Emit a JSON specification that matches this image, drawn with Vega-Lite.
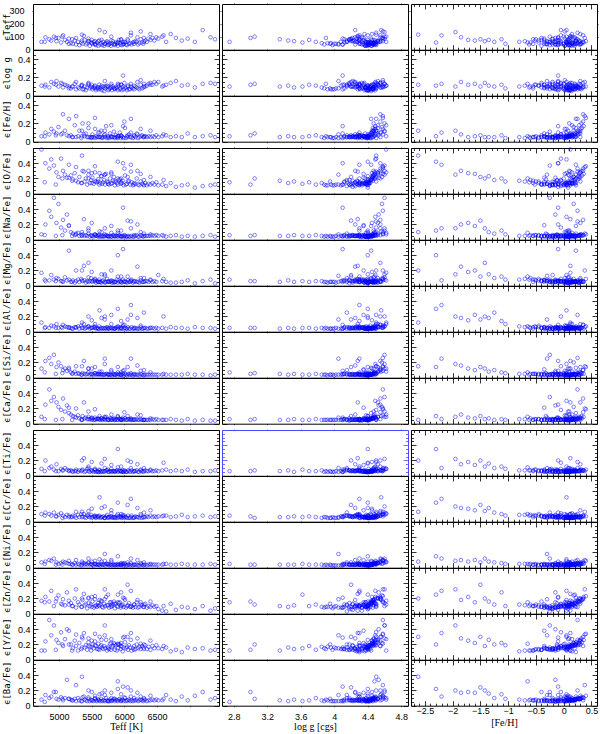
{
"$schema": "https://vega.github.io/schema/vega-lite/v6.json",
"padding": {"left": 1, "top": 0, "right": 3, "bottom": 0},
"datasets": {"s": [
{"T":4730,"g":4.62,"m":0.12,"eT":60,"eg":0.11,"em":0.06,"eO":0.58,"eNa":0.07,"eMg":0.17,"eAl":0.12,"eSi":0.12,"eCa":0.09,"eTi":0.09,"eCr":0.1,"eNi":0.07,"eZn":0.17,"eY":0.12,"eBa":0.08},
{"T":4790,"g":4.55,"m":-0.1,"eT":95,"eg":0.12,"em":0.1,"eO":0.4,"eNa":0.2,"eMg":0.06,"eAl":0.06,"eSi":0.22,"eCa":0.25,"eTi":0.2,"eCr":0.12,"eNi":0.08,"eZn":0.22,"eY":0.24,"eBa":0.14},
{"T":4850,"g":4.58,"m":0.25,"eT":80,"eg":0.09,"em":0.08,"eO":0.33,"eNa":0.38,"eMg":0.07,"eAl":0.05,"eSi":0.26,"eCa":0.45,"eTi":0.1,"eCr":0.1,"eNi":0.1,"eZn":0.16,"eY":0.52,"eBa":0.1},
{"T":4880,"g":4.49,"m":0.05,"eT":70,"eg":0.15,"em":0.14,"eO":0.45,"eNa":0.3,"eMg":0.14,"eAl":0.08,"eSi":0.18,"eCa":0.3,"eTi":0.12,"eCr":0.08,"eNi":0.09,"eZn":0.3,"eY":0.32,"eBa":0.12},
{"T":4920,"g":4.6,"m":-0.25,"eT":100,"eg":0.13,"em":0.11,"eO":0.37,"eNa":0.55,"eMg":0.08,"eAl":0.07,"eSi":0.3,"eCa":0.35,"eTi":0.08,"eCr":0.12,"eNi":0.12,"eZn":0.1,"eY":0.45,"eBa":0.18},
{"T":4960,"g":4.52,"m":0.3,"eT":65,"eg":0.16,"em":0.09,"eO":0.28,"eNa":0.22,"eMg":0.1,"eAl":0.1,"eSi":0.14,"eCa":0.28,"eTi":0.15,"eCr":0.07,"eNi":0.07,"eZn":0.2,"eY":0.26,"eBa":0.09},
{"T":4990,"g":4.57,"m":0.18,"eT":90,"eg":0.1,"em":0.16,"eO":0.22,"eNa":0.47,"eMg":0.09,"eAl":0.05,"eSi":0.2,"eCa":0.22,"eTi":0.06,"eCr":0.09,"eNi":0.05,"eZn":0.24,"eY":0.22,"eBa":0.08},
{"T":5030,"g":4.5,"m":-0.05,"eT":55,"eg":0.14,"em":0.08,"eO":0.46,"eNa":0.16,"eMg":0.06,"eAl":0.06,"eSi":0.15,"eCa":0.18,"eTi":0.09,"eCr":0.11,"eNi":0.06,"eZn":0.13,"eY":0.36,"eBa":0.11},
{"T":5060,"g":4.55,"m":0.35,"eT":110,"eg":0.09,"em":0.3,"eO":0.3,"eNa":0.26,"eMg":0.05,"eAl":0.09,"eSi":0.1,"eCa":0.33,"eTi":0.07,"eCr":0.08,"eNi":0.08,"eZn":0.19,"eY":0.18,"eBa":0.07},
{"T":5090,"g":4.47,"m":0.08,"eT":75,"eg":0.12,"em":0.12,"eO":0.25,"eNa":0.12,"eMg":0.11,"eAl":0.07,"eSi":0.12,"eCa":0.16,"eTi":0.1,"eCr":0.06,"eNi":0.07,"eZn":0.11,"eY":0.27,"eBa":0.1},
{"T":5120,"g":4.53,"m":-0.15,"eT":60,"eg":0.11,"em":0.07,"eO":0.21,"eNa":0.33,"eMg":0.07,"eAl":0.06,"eSi":0.09,"eCa":0.24,"eTi":0.08,"eCr":0.09,"eNi":0.06,"eZn":0.28,"eY":0.4,"eBa":0.34},
{"T":5150,"g":4.44,"m":0.22,"eT":85,"eg":0.1,"em":0.25,"eO":0.38,"eNa":0.18,"eMg":0.46,"eAl":0.05,"eSi":0.13,"eCa":0.14,"eTi":0.06,"eCr":0.08,"eNi":0.09,"eZn":0.17,"eY":0.2,"eBa":0.09},
{"T":5180,"g":4.48,"m":0.1,"eT":50,"eg":0.08,"em":0.07,"eO":0.24,"eNa":0.1,"eMg":0.05,"eAl":0.05,"eSi":0.07,"eCa":0.12,"eTi":0.07,"eCr":0.06,"eNi":0.05,"eZn":0.14,"eY":0.2,"eBa":0.08},
{"T":5210,"g":4.4,"m":-0.32,"eT":45,"eg":0.1,"em":0.05,"eO":0.19,"eNa":0.08,"eMg":0.07,"eAl":0.04,"eSi":0.06,"eCa":0.1,"eTi":0.05,"eCr":0.08,"eNi":0.04,"eZn":0.1,"eY":0.15,"eBa":0.07},
{"T":5240,"g":4.52,"m":0.28,"eT":70,"eg":0.13,"em":0.18,"eO":0.27,"eNa":0.06,"eMg":0.04,"eAl":0.06,"eSi":0.08,"eCa":0.09,"eTi":0.06,"eCr":0.07,"eNi":0.06,"eZn":0.2,"eY":0.25,"eBa":0.09},
{"T":5260,"g":4.46,"m":-0.12,"eT":40,"eg":0.07,"em":0.05,"eO":0.17,"eNa":0.07,"eMg":0.06,"eAl":0.05,"eSi":0.05,"eCa":0.08,"eTi":0.08,"eCr":0.05,"eNi":0.04,"eZn":0.08,"eY":0.18,"eBa":0.06},
{"T":5290,"g":4.38,"m":0.05,"eT":60,"eg":0.09,"em":0.06,"eO":0.15,"eNa":0.09,"eMg":0.08,"eAl":0.07,"eSi":0.06,"eCa":0.11,"eTi":0.05,"eCr":0.09,"eNi":0.05,"eZn":0.15,"eY":0.12,"eBa":0.1},
{"T":5310,"g":4.5,"m":0.18,"eT":35,"eg":0.08,"em":0.12,"eO":0.22,"eNa":0.05,"eMg":0.05,"eAl":0.04,"eSi":0.05,"eCa":0.07,"eTi":0.07,"eCr":0.06,"eNi":0.04,"eZn":0.12,"eY":0.22,"eBa":0.07},
{"T":5340,"g":4.43,"m":-0.45,"eT":55,"eg":0.11,"em":0.04,"eO":0.14,"eNa":0.06,"eMg":0.09,"eAl":0.08,"eSi":0.04,"eCa":0.06,"eTi":0.06,"eCr":0.1,"eNi":0.03,"eZn":0.09,"eY":0.14,"eBa":0.06},
{"T":5360,"g":4.47,"m":0.32,"eT":45,"eg":0.07,"em":0.2,"eO":0.3,"eNa":0.07,"eMg":0.06,"eAl":0.05,"eSi":0.06,"eCa":0.1,"eTi":0.08,"eCr":0.07,"eNi":0.06,"eZn":0.18,"eY":0.28,"eBa":0.11},
{"T":5390,"g":4.35,"m":-0.08,"eT":75,"eg":0.1,"em":0.06,"eO":0.16,"eNa":0.05,"eMg":0.07,"eAl":0.04,"eSi":0.05,"eCa":0.07,"eTi":0.05,"eCr":0.06,"eNi":0.04,"eZn":0.11,"eY":0.16,"eBa":0.08},
{"T":5410,"g":4.49,"m":0.12,"eT":40,"eg":0.06,"em":0.09,"eO":0.2,"eNa":0.06,"eMg":0.04,"eAl":0.05,"eSi":0.04,"eCa":0.08,"eTi":0.06,"eCr":0.05,"eNi":0.05,"eZn":0.13,"eY":0.19,"eBa":0.07},
{"T":5430,"g":4.41,"m":-0.22,"eT":50,"eg":0.09,"em":0.05,"eO":0.12,"eNa":0.05,"eMg":0.06,"eAl":0.06,"eSi":0.05,"eCa":0.06,"eTi":0.09,"eCr":0.08,"eNi":0.04,"eZn":0.07,"eY":0.13,"eBa":0.06},
{"T":5450,"g":4.52,"m":0.22,"eT":65,"eg":0.12,"em":0.15,"eO":0.25,"eNa":0.08,"eMg":0.05,"eAl":0.07,"eSi":0.07,"eCa":0.09,"eTi":0.06,"eCr":0.07,"eNi":0.06,"eZn":0.21,"eY":0.23,"eBa":0.09},
{"T":5470,"g":4.37,"m":0.02,"eT":30,"eg":0.08,"em":0.05,"eO":0.14,"eNa":0.04,"eMg":0.06,"eAl":0.04,"eSi":0.04,"eCa":0.06,"eTi":0.05,"eCr":0.06,"eNi":0.04,"eZn":0.1,"eY":0.17,"eBa":0.06},
{"T":5490,"g":4.44,"m":-0.6,"eT":55,"eg":0.1,"em":0.04,"eO":0.18,"eNa":0.06,"eMg":0.1,"eAl":0.05,"eSi":0.05,"eCa":0.07,"eTi":0.07,"eCr":0.09,"eNi":0.05,"eZn":0.12,"eY":0.12,"eBa":0.08},
{"T":5510,"g":4.46,"m":0.15,"eT":45,"eg":0.07,"em":0.08,"eO":0.21,"eNa":0.05,"eMg":0.05,"eAl":0.05,"eSi":0.05,"eCa":0.07,"eTi":0.06,"eCr":0.06,"eNi":0.04,"eZn":0.16,"eY":0.2,"eBa":0.07},
{"T":5530,"g":4.33,"m":-0.35,"eT":60,"eg":0.09,"em":0.05,"eO":0.13,"eNa":0.04,"eMg":0.07,"eAl":0.06,"eSi":0.04,"eCa":0.05,"eTi":0.05,"eCr":0.07,"eNi":0.03,"eZn":0.08,"eY":0.15,"eBa":0.06},
{"T":5550,"g":4.48,"m":0.3,"eT":40,"eg":0.11,"em":0.14,"eO":0.28,"eNa":0.06,"eMg":0.06,"eAl":0.05,"eSi":0.06,"eCa":0.08,"eTi":0.07,"eCr":0.06,"eNi":0.05,"eZn":0.19,"eY":0.24,"eBa":0.1},
{"T":5565,"g":4.4,"m":0.08,"eT":35,"eg":0.06,"em":0.06,"eO":0.16,"eNa":0.05,"eMg":0.04,"eAl":0.04,"eSi":0.04,"eCa":0.06,"eTi":0.05,"eCr":0.05,"eNi":0.04,"eZn":0.11,"eY":0.18,"eBa":0.07},
{"T":5580,"g":4.12,"m":-0.18,"eT":55,"eg":0.08,"em":0.05,"eO":0.15,"eNa":0.05,"eMg":0.06,"eAl":0.05,"eSi":0.05,"eCa":0.06,"eTi":0.06,"eCr":0.07,"eNi":0.04,"eZn":0.09,"eY":0.14,"eBa":0.06},
{"T":5600,"g":4.45,"m":0.2,"eT":30,"eg":0.07,"em":0.1,"eO":0.19,"eNa":0.04,"eMg":0.05,"eAl":0.04,"eSi":0.04,"eCa":0.07,"eTi":0.05,"eCr":0.06,"eNi":0.04,"eZn":0.14,"eY":0.21,"eBa":0.08},
{"T":5615,"g":4.3,"m":-0.52,"eT":70,"eg":0.12,"em":0.05,"eO":0.12,"eNa":0.06,"eMg":0.08,"eAl":0.07,"eSi":0.05,"eCa":0.06,"eTi":0.08,"eCr":0.08,"eNi":0.04,"eZn":0.1,"eY":0.13,"eBa":0.07},
{"T":5630,"g":4.42,"m":0.04,"eT":40,"eg":0.07,"em":0.05,"eO":0.14,"eNa":0.04,"eMg":0.05,"eAl":0.04,"eSi":0.04,"eCa":0.05,"eTi":0.05,"eCr":0.05,"eNi":0.03,"eZn":0.12,"eY":0.17,"eBa":0.06},
{"T":5645,"g":4.47,"m":0.26,"eT":50,"eg":0.09,"em":0.12,"eO":0.23,"eNa":0.05,"eMg":0.04,"eAl":0.05,"eSi":0.05,"eCa":0.07,"eTi":0.06,"eCr":0.06,"eNi":0.05,"eZn":0.17,"eY":0.19,"eBa":0.09},
{"T":5660,"g":4.38,"m":-0.1,"eT":35,"eg":0.06,"em":0.04,"eO":0.13,"eNa":0.04,"eMg":0.06,"eAl":0.04,"eSi":0.04,"eCa":0.05,"eTi":0.05,"eCr":0.06,"eNi":0.04,"eZn":0.09,"eY":0.16,"eBa":0.06},
{"T":5675,"g":4.25,"m":-0.28,"eT":60,"eg":0.1,"em":0.05,"eO":0.15,"eNa":0.05,"eMg":0.07,"eAl":0.05,"eSi":0.04,"eCa":0.06,"eTi":0.06,"eCr":0.07,"eNi":0.04,"eZn":0.08,"eY":0.14,"eBa":0.07},
{"T":5690,"g":4.44,"m":0.14,"eT":30,"eg":0.05,"em":0.07,"eO":0.18,"eNa":0.04,"eMg":0.05,"eAl":0.04,"eSi":0.04,"eCa":0.06,"eTi":0.05,"eCr":0.05,"eNi":0.04,"eZn":0.13,"eY":0.18,"eBa":0.07},
{"T":5705,"g":4.02,"m":0,"eT":45,"eg":0.08,"em":0.05,"eO":0.12,"eNa":0.05,"eMg":0.04,"eAl":0.05,"eSi":0.04,"eCa":0.05,"eTi":0.06,"eCr":0.05,"eNi":0.03,"eZn":0.1,"eY":0.15,"eBa":0.06},
{"T":5720,"g":4.49,"m":0.36,"eT":55,"eg":0.1,"em":0.17,"eO":0.26,"eNa":0.06,"eMg":0.05,"eAl":0.04,"eSi":0.05,"eCa":0.09,"eTi":0.07,"eCr":0.07,"eNi":0.05,"eZn":0.22,"eY":0.26,"eBa":0.1},
{"T":5735,"g":4.28,"m":-0.7,"eT":65,"eg":0.11,"em":0.04,"eO":0.16,"eNa":0.05,"eMg":0.09,"eAl":0.06,"eSi":0.05,"eCa":0.06,"eTi":0.07,"eCr":0.09,"eNi":0.05,"eZn":0.11,"eY":0.12,"eBa":0.07},
{"T":5750,"g":4.41,"m":0.1,"eT":35,"eg":0.06,"em":0.06,"eO":0.15,"eNa":0.04,"eMg":0.05,"eAl":0.04,"eSi":0.04,"eCa":0.05,"eTi":0.05,"eCr":0.05,"eNi":0.04,"eZn":0.11,"eY":0.17,"eBa":0.06},
{"T":5765,"g":4.1,"m":-0.15,"eT":40,"eg":0.07,"em":0.04,"eO":0.12,"eNa":0.04,"eMg":0.05,"eAl":0.04,"eSi":0.04,"eCa":0.05,"eTi":0.05,"eCr":0.06,"eNi":0.03,"eZn":0.08,"eY":0.14,"eBa":0.06},
{"T":5780,"g":4.45,"m":0.22,"eT":45,"eg":0.08,"em":0.09,"eO":0.2,"eNa":0.05,"eMg":0.05,"eAl":0.05,"eSi":0.04,"eCa":0.07,"eTi":0.06,"eCr":0.06,"eNi":0.04,"eZn":0.15,"eY":0.21,"eBa":0.08},
{"T":5795,"g":4.37,"m":-0.4,"eT":30,"eg":0.09,"em":0.05,"eO":0.13,"eNa":0.04,"eMg":0.06,"eAl":0.05,"eSi":0.04,"eCa":0.05,"eTi":0.06,"eCr":0.07,"eNi":0.04,"eZn":0.09,"eY":0.13,"eBa":0.06},
{"T":5810,"g":4.4,"m":0.06,"eT":50,"eg":0.06,"em":0.05,"eO":0.14,"eNa":0.04,"eMg":0.04,"eAl":0.04,"eSi":0.03,"eCa":0.05,"eTi":0.05,"eCr":0.05,"eNi":0.03,"eZn":0.1,"eY":0.16,"eBa":0.07},
{"T":5825,"g":4.22,"m":-0.05,"eT":65,"eg":0.1,"em":0.05,"eO":0.17,"eNa":0.06,"eMg":0.06,"eAl":0.05,"eSi":0.05,"eCa":0.06,"eTi":0.06,"eCr":0.06,"eNi":0.04,"eZn":0.12,"eY":0.18,"eBa":0.07},
{"T":5840,"g":4.46,"m":0.28,"eT":40,"eg":0.08,"em":0.11,"eO":0.22,"eNa":0.05,"eMg":0.04,"eAl":0.04,"eSi":0.04,"eCa":0.07,"eTi":0.06,"eCr":0.06,"eNi":0.04,"eZn":0.16,"eY":0.22,"eBa":0.09},
{"T":5855,"g":3.98,"m":-0.25,"eT":35,"eg":0.07,"em":0.04,"eO":0.11,"eNa":0.04,"eMg":0.05,"eAl":0.04,"eSi":0.04,"eCa":0.05,"eTi":0.05,"eCr":0.06,"eNi":0.03,"eZn":0.07,"eY":0.13,"eBa":0.06},
{"T":5870,"g":4.42,"m":0.16,"eT":55,"eg":0.09,"em":0.07,"eO":0.16,"eNa":0.05,"eMg":0.05,"eAl":0.05,"eSi":0.04,"eCa":0.06,"eTi":0.06,"eCr":0.05,"eNi":0.04,"eZn":0.13,"eY":0.19,"eBa":0.08},
{"T":5885,"g":4.3,"m":-0.55,"eT":45,"eg":0.08,"em":0.05,"eO":0.14,"eNa":0.05,"eMg":0.08,"eAl":0.06,"eSi":0.05,"eCa":0.05,"eTi":0.07,"eCr":0.08,"eNi":0.04,"eZn":0.1,"eY":0.12,"eBa":0.07},
{"T":5900,"g":4.39,"m":0.02,"eT":30,"eg":0.06,"em":0.04,"eO":0.12,"eNa":0.04,"eMg":0.04,"eAl":0.04,"eSi":0.03,"eCa":0.05,"eTi":0.05,"eCr":0.05,"eNi":0.03,"eZn":0.09,"eY":0.15,"eBa":0.06},
{"T":5915,"g":4.18,"m":-0.12,"eT":75,"eg":0.12,"em":0.06,"eO":0.18,"eNa":0.06,"eMg":0.07,"eAl":0.06,"eSi":0.05,"eCa":0.07,"eTi":0.07,"eCr":0.07,"eNi":0.04,"eZn":0.14,"eY":0.2,"eBa":0.08},
{"T":5930,"g":4.44,"m":0.25,"eT":50,"eg":0.07,"em":0.1,"eO":0.19,"eNa":0.05,"eMg":0.05,"eAl":0.04,"eSi":0.04,"eCa":0.06,"eTi":0.06,"eCr":0.06,"eNi":0.04,"eZn":0.15,"eY":0.2,"eBa":0.09},
{"T":5945,"g":4.33,"m":-0.3,"eT":40,"eg":0.08,"em":0.04,"eO":0.13,"eNa":0.04,"eMg":0.06,"eAl":0.05,"eSi":0.04,"eCa":0.05,"eTi":0.06,"eCr":0.06,"eNi":0.04,"eZn":0.08,"eY":0.14,"eBa":0.06},
{"T":5960,"g":4.41,"m":0.1,"eT":35,"eg":0.06,"em":0.06,"eO":0.14,"eNa":0.04,"eMg":0.04,"eAl":0.04,"eSi":0.03,"eCa":0.05,"eTi":0.05,"eCr":0.05,"eNi":0.03,"eZn":0.11,"eY":0.17,"eBa":0.07},
{"T":5975,"g":4.27,"m":-0.8,"eT":60,"eg":0.1,"em":0.05,"eO":0.17,"eNa":0.05,"eMg":0.08,"eAl":0.07,"eSi":0.05,"eCa":0.06,"eTi":0.07,"eCr":0.09,"eNi":0.05,"eZn":0.12,"eY":0.11,"eBa":0.08},
{"T":5990,"g":4,"m":0,"eT":45,"eg":0.07,"em":0.04,"eO":0.11,"eNa":0.04,"eMg":0.05,"eAl":0.04,"eSi":0.03,"eCa":0.05,"eTi":0.05,"eCr":0.05,"eNi":0.03,"eZn":0.09,"eY":0.16,"eBa":0.06},
{"T":6010,"g":4.46,"m":0.33,"eT":55,"eg":0.09,"em":0.15,"eO":0.24,"eNa":0.05,"eMg":0.05,"eAl":0.05,"eSi":0.05,"eCa":0.07,"eTi":0.06,"eCr":0.06,"eNi":0.05,"eZn":0.18,"eY":0.23,"eBa":0.1},
{"T":6025,"g":4.05,"m":-0.2,"eT":40,"eg":0.08,"em":0.04,"eO":0.12,"eNa":0.04,"eMg":0.05,"eAl":0.04,"eSi":0.04,"eCa":0.05,"eTi":0.05,"eCr":0.06,"eNi":0.03,"eZn":0.08,"eY":0.15,"eBa":0.06},
{"T":6040,"g":4.36,"m":0.12,"eT":35,"eg":0.06,"em":0.06,"eO":0.13,"eNa":0.04,"eMg":0.04,"eAl":0.04,"eSi":0.03,"eCa":0.05,"eTi":0.05,"eCr":0.05,"eNi":0.03,"eZn":0.1,"eY":0.17,"eBa":0.07},
{"T":6055,"g":4.15,"m":-0.45,"eT":70,"eg":0.11,"em":0.05,"eO":0.16,"eNa":0.05,"eMg":0.07,"eAl":0.06,"eSi":0.05,"eCa":0.06,"eTi":0.07,"eCr":0.08,"eNi":0.04,"eZn":0.11,"eY":0.13,"eBa":0.07},
{"T":6070,"g":4.42,"m":0.2,"eT":45,"eg":0.07,"em":0.08,"eO":0.17,"eNa":0.04,"eMg":0.05,"eAl":0.04,"eSi":0.04,"eCa":0.06,"eTi":0.06,"eCr":0.05,"eNi":0.04,"eZn":0.14,"eY":0.19,"eBa":0.08},
{"T":6090,"g":3.96,"m":-0.08,"eT":50,"eg":0.07,"em":0.05,"eO":0.12,"eNa":0.04,"eMg":0.05,"eAl":0.04,"eSi":0.04,"eCa":0.05,"eTi":0.05,"eCr":0.05,"eNi":0.03,"eZn":0.09,"eY":0.16,"eBa":0.06},
{"T":6110,"g":4.25,"m":-0.62,"eT":40,"eg":0.09,"em":0.05,"eO":0.15,"eNa":0.05,"eMg":0.08,"eAl":0.06,"eSi":0.04,"eCa":0.05,"eTi":0.07,"eCr":0.08,"eNi":0.04,"eZn":0.1,"eY":0.12,"eBa":0.07},
{"T":6130,"g":4.4,"m":0.05,"eT":55,"eg":0.08,"em":0.04,"eO":0.11,"eNa":0.04,"eMg":0.04,"eAl":0.04,"eSi":0.03,"eCa":0.05,"eTi":0.05,"eCr":0.05,"eNi":0.03,"eZn":0.08,"eY":0.15,"eBa":0.06},
{"T":6150,"g":4.31,"m":0.18,"eT":45,"eg":0.07,"em":0.06,"eO":0.14,"eNa":0.04,"eMg":0.05,"eAl":0.05,"eSi":0.04,"eCa":0.05,"eTi":0.06,"eCr":0.05,"eNi":0.04,"eZn":0.12,"eY":0.18,"eBa":0.07},
{"T":6170,"g":4.2,"m":-0.3,"eT":65,"eg":0.1,"em":0.05,"eO":0.13,"eNa":0.05,"eMg":0.06,"eAl":0.05,"eSi":0.04,"eCa":0.05,"eTi":0.06,"eCr":0.07,"eNi":0.04,"eZn":0.09,"eY":0.14,"eBa":0.07},
{"T":6190,"g":4.37,"m":0.28,"eT":60,"eg":0.09,"em":0.09,"eO":0.2,"eNa":0.06,"eMg":0.05,"eAl":0.04,"eSi":0.04,"eCa":0.06,"eTi":0.07,"eCr":0.06,"eNi":0.04,"eZn":0.15,"eY":0.2,"eBa":0.08},
{"T":6210,"g":3.88,"m":-0.15,"eT":40,"eg":0.08,"em":0.04,"eO":0.12,"eNa":0.04,"eMg":0.05,"eAl":0.04,"eSi":0.04,"eCa":0.05,"eTi":0.05,"eCr":0.06,"eNi":0.03,"eZn":0.08,"eY":0.15,"eBa":0.06},
{"T":6230,"g":3.92,"m":0.08,"eT":50,"eg":0.07,"em":0.05,"eO":0.11,"eNa":0.04,"eMg":0.04,"eAl":0.04,"eSi":0.03,"eCa":0.05,"eTi":0.05,"eCr":0.05,"eNi":0.03,"eZn":0.09,"eY":0.17,"eBa":0.07},
{"T":6250,"g":4.12,"m":-0.5,"eT":80,"eg":0.12,"em":0.06,"eO":0.16,"eNa":0.06,"eMg":0.07,"eAl":0.06,"eSi":0.05,"eCa":0.06,"eTi":0.08,"eCr":0.08,"eNi":0.05,"eZn":0.12,"eY":0.14,"eBa":0.08},
{"T":6270,"g":4.3,"m":0.15,"eT":55,"eg":0.08,"em":0.07,"eO":0.13,"eNa":0.05,"eMg":0.05,"eAl":0.04,"eSi":0.04,"eCa":0.05,"eTi":0.06,"eCr":0.05,"eNi":0.04,"eZn":0.11,"eY":0.18,"eBa":0.07},
{"T":6290,"g":4.38,"m":-0.05,"eT":45,"eg":0.09,"em":0.05,"eO":0.12,"eNa":0.04,"eMg":0.05,"eAl":0.04,"eSi":0.03,"eCa":0.05,"eTi":0.05,"eCr":0.06,"eNi":0.03,"eZn":0.09,"eY":0.16,"eBa":0.06},
{"T":6320,"g":4.22,"m":0.22,"eT":70,"eg":0.1,"em":0.06,"eO":0.14,"eNa":0.05,"eMg":0.06,"eAl":0.05,"eSi":0.04,"eCa":0.05,"eTi":0.07,"eCr":0.06,"eNi":0.04,"eZn":0.13,"eY":0.19,"eBa":0.08},
{"T":6345,"g":4.08,"m":-0.25,"eT":60,"eg":0.11,"em":0.05,"eO":0.11,"eNa":0.05,"eMg":0.06,"eAl":0.04,"eSi":0.04,"eCa":0.05,"eTi":0.06,"eCr":0.07,"eNi":0.03,"eZn":0.08,"eY":0.14,"eBa":0.06},
{"T":6370,"g":4.27,"m":0.02,"eT":85,"eg":0.13,"em":0.06,"eO":0.13,"eNa":0.05,"eMg":0.05,"eAl":0.04,"eSi":0.04,"eCa":0.05,"eTi":0.06,"eCr":0.06,"eNi":0.04,"eZn":0.1,"eY":0.17,"eBa":0.07},
{"T":6400,"g":4.18,"m":-0.4,"eT":75,"eg":0.14,"em":0.05,"eO":0.12,"eNa":0.05,"eMg":0.07,"eAl":0.05,"eSi":0.04,"eCa":0.05,"eTi":0.07,"eCr":0.08,"eNi":0.04,"eZn":0.09,"eY":0.13,"eBa":0.07},
{"T":6430,"g":4.35,"m":0.12,"eT":90,"eg":0.12,"em":0.06,"eO":0.14,"eNa":0.06,"eMg":0.05,"eAl":0.05,"eSi":0.04,"eCa":0.06,"eTi":0.06,"eCr":0.06,"eNi":0.04,"eZn":0.11,"eY":0.18,"eBa":0.08},
{"T":6460,"g":4.24,"m":-0.1,"eT":70,"eg":0.15,"em":0.05,"eO":0.12,"eNa":0.05,"eMg":0.06,"eAl":0.04,"eSi":0.04,"eCa":0.05,"eTi":0.06,"eCr":0.07,"eNi":0.04,"eZn":0.09,"eY":0.15,"eBa":0.07},
{"T":6490,"g":4.3,"m":0.2,"eT":95,"eg":0.13,"em":0.07,"eO":0.15,"eNa":0.06,"eMg":0.05,"eAl":0.05,"eSi":0.04,"eCa":0.06,"eTi":0.07,"eCr":0.06,"eNi":0.04,"eZn":0.1,"eY":0.19,"eBa":0.08},
{"T":6520,"g":4.2,"m":-0.2,"eT":85,"eg":0.15,"em":0.05,"eO":0.11,"eNa":0.05,"eMg":0.14,"eAl":0.04,"eSi":0.04,"eCa":0.05,"eTi":0.06,"eCr":0.07,"eNi":0.04,"eZn":0.06,"eY":0.15,"eBa":0.07},
{"T":6580,"g":4.28,"m":0.05,"eT":100,"eg":0.1,"em":0.06,"eO":0.12,"eNa":0.06,"eMg":0.06,"eAl":0.05,"eSi":0.04,"eCa":0.05,"eTi":0.07,"eCr":0.07,"eNi":0.04,"eZn":0.04,"eY":0.14,"eBa":0.07},
{"T":6640,"g":4.15,"m":-0.25,"eT":60,"eg":0.12,"em":0.07,"eO":0.1,"eNa":0.04,"eMg":0.05,"eAl":0.04,"eSi":0.04,"eCa":0.05,"eTi":0.08,"eCr":0.08,"eNi":0.05,"eZn":0.03,"eY":0.16,"eBa":0.14},
{"T":6710,"g":4.36,"m":0.15,"eT":120,"eg":0.14,"em":0.05,"eO":0.14,"eNa":0.05,"eMg":0.04,"eAl":0.06,"eSi":0.04,"eCa":0.06,"eTi":0.06,"eCr":0.06,"eNi":0.04,"eZn":0.13,"eY":0.11,"eBa":0.08},
{"T":6790,"g":4.22,"m":-0.1,"eT":90,"eg":0.16,"em":0.06,"eO":0.09,"eNa":0.06,"eMg":0.04,"eAl":0.05,"eSi":0.04,"eCa":0.05,"eTi":0.07,"eCr":0.07,"eNi":0.04,"eZn":0.05,"eY":0.13,"eBa":0.06},
{"T":6880,"g":4.3,"m":0.22,"eT":70,"eg":0.11,"em":0.05,"eO":0.11,"eNa":0.04,"eMg":0.05,"eAl":0.05,"eSi":0.04,"eCa":0.04,"eTi":0.06,"eCr":0.09,"eNi":0.05,"eZn":0.09,"eY":0.1,"eBa":0.12},
{"T":6970,"g":4.1,"m":-0.35,"eT":85,"eg":0.12,"em":0.09,"eO":0.12,"eNa":0.05,"eMg":0.07,"eAl":0.04,"eSi":0.05,"eCa":0.06,"eTi":0.08,"eCr":0.06,"eNi":0.04,"eZn":0.08,"eY":0.16,"eBa":0.07},
{"T":7080,"g":4.4,"m":0.08,"eT":60,"eg":0.09,"em":0.05,"eO":0.08,"eNa":0.04,"eMg":0.03,"eAl":0.06,"eSi":0.04,"eCa":0.04,"eTi":0.05,"eCr":0.07,"eNi":0.04,"eZn":0.06,"eY":0.14,"eBa":0.13},
{"T":7200,"g":4.25,"m":-0.05,"eT":150,"eg":0.13,"em":0.06,"eO":0.1,"eNa":0.05,"eMg":0.06,"eAl":0.05,"eSi":0.04,"eCa":0.05,"eTi":0.06,"eCr":0.08,"eNi":0.04,"eZn":0.1,"eY":0.15,"eBa":0.18},
{"T":7320,"g":4.33,"m":0.12,"eT":95,"eg":0.14,"em":0.07,"eO":0.11,"eNa":0.06,"eMg":0.08,"eAl":0.05,"eSi":0.03,"eCa":0.04,"eTi":0.06,"eCr":0.06,"eNi":0.05,"eZn":0.04,"eY":0.12,"eBa":0.08},
{"T":7390,"g":4.18,"m":-0.2,"eT":80,"eg":0.13,"em":0.05,"eO":0.12,"eNa":0.04,"eMg":0.03,"eAl":0.04,"eSi":0.04,"eCa":0.04,"eTi":0.07,"eCr":0.07,"eNi":0.04,"eZn":0.07,"eY":0.13,"eBa":0.1},
{"T":5350,"g":4.5,"m":-2.62,"eT":115,"eg":0.12,"em":0.12,"eO":0.5,"eNa":0.1,"eMg":0.2,"eAl":0.12,"eSi":0.15,"eCa":0.05,"eTi":0.2,"eCr":0.13,"eNi":0.08,"eZn":0.2,"eY":0.3,"eBa":0.38},
{"T":5900,"g":4.4,"m":-2.3,"eT":55,"eg":0.11,"em":0.06,"eO":0.42,"eNa":0.12,"eMg":0.4,"eAl":0.3,"eSi":0.14,"eCa":0.1,"eTi":0.35,"eCr":0.25,"eNi":0.15,"eZn":0.25,"eY":0.2,"eBa":0.22},
{"T":6100,"g":4.3,"m":-2.2,"eT":110,"eg":0.13,"em":0.1,"eO":0.38,"eNa":0.15,"eMg":0.07,"eAl":0.35,"eSi":0.25,"eCa":0.06,"eTi":0.1,"eCr":0.3,"eNi":0.12,"eZn":0.3,"eY":0.35,"eBa":0.12},
{"T":5700,"g":4.6,"m":-1.95,"eT":135,"eg":0.1,"em":0.12,"eO":0.25,"eNa":0.15,"eMg":0.15,"eAl":0.2,"eSi":0.18,"eCa":0.09,"eTi":0.22,"eCr":0.2,"eNi":0.09,"eZn":0.32,"eY":0.45,"eBa":0.2},
{"T":6200,"g":4.25,"m":-1.85,"eT":95,"eg":0.15,"em":0.08,"eO":0.3,"eNa":0.2,"eMg":0.25,"eAl":0.18,"eSi":0.16,"eCa":0.12,"eTi":0.15,"eCr":0.18,"eNi":0.1,"eZn":0.18,"eY":0.28,"eBa":0.17},
{"T":5500,"g":4.45,"m":-1.72,"eT":75,"eg":0.12,"em":0.05,"eO":0.27,"eNa":0.22,"eMg":0.18,"eAl":0.15,"eSi":0.12,"eCa":0.08,"eTi":0.18,"eCr":0.17,"eNi":0.08,"eZn":0.22,"eY":0.25,"eBa":0.18},
{"T":5800,"g":4.35,"m":-1.6,"eT":70,"eg":0.13,"em":0.06,"eO":0.26,"eNa":0.18,"eMg":0.2,"eAl":0.22,"eSi":0.1,"eCa":0.07,"eTi":0.14,"eCr":0.15,"eNi":0.1,"eZn":0.15,"eY":0.22,"eBa":0.17},
{"T":6050,"g":4.2,"m":-1.5,"eT":80,"eg":0.1,"em":0.07,"eO":0.22,"eNa":0.25,"eMg":0.12,"eAl":0.16,"eSi":0.14,"eCa":0.1,"eTi":0.2,"eCr":0.22,"eNi":0.07,"eZn":0.38,"eY":0.3,"eBa":0.24},
{"T":5450,"g":4.55,"m":-1.42,"eT":65,"eg":0.14,"em":0.05,"eO":0.2,"eNa":0.15,"eMg":0.3,"eAl":0.2,"eSi":0.12,"eCa":0.06,"eTi":0.12,"eCr":0.14,"eNi":0.12,"eZn":0.2,"eY":0.18,"eBa":0.2},
{"T":5650,"g":4.4,"m":-1.35,"eT":75,"eg":0.11,"em":0.05,"eO":0.23,"eNa":0.1,"eMg":0.15,"eAl":0.18,"eSi":0.08,"eCa":0.07,"eTi":0.16,"eCr":0.18,"eNi":0.08,"eZn":0.16,"eY":0.26,"eBa":0.16},
{"T":6300,"g":4.15,"m":-1.25,"eT":60,"eg":0.1,"em":0.05,"eO":0.18,"eNa":0.08,"eMg":0.1,"eAl":0.25,"eSi":0.1,"eCa":0.05,"eTi":0.1,"eCr":0.12,"eNi":0.07,"eZn":0.12,"eY":0.2,"eBa":0.1},
{"T":5950,"g":4.3,"m":-1.12,"eT":80,"eg":0.12,"em":0.07,"eO":0.2,"eNa":0.12,"eMg":0.12,"eAl":0.14,"eSi":0.07,"eCa":0.06,"eTi":0.12,"eCr":0.1,"eNi":0.06,"eZn":0.28,"eY":0.22,"eBa":0.15},
{"T":5550,"g":4.5,"m":-1.05,"eT":45,"eg":0.08,"em":0.04,"eO":0.16,"eNa":0.07,"eMg":0.08,"eAl":0.1,"eSi":0.06,"eCa":0.05,"eTi":0.09,"eCr":0.08,"eNi":0.05,"eZn":0.1,"eY":0.19,"eBa":0.09},
{"T":4780,"g":2.75,"m":-0.15,"eT":60,"eg":0.1,"em":0.06,"eO":0.15,"eNa":0.06,"eMg":0.08,"eAl":0.05,"eSi":0.07,"eCa":0.06,"eTi":0.06,"eCr":0.08,"eNi":0.05,"eZn":0.15,"eY":0.12,"eBa":0.05},
{"T":4950,"g":3,"m":-0.4,"eT":90,"eg":0.12,"em":0.07,"eO":0.12,"eNa":0.05,"eMg":0.06,"eAl":0.05,"eSi":0.05,"eCa":0.05,"eTi":0.06,"eCr":0.07,"eNi":0.04,"eZn":0.16,"eY":0.13,"eBa":0.18},
{"T":5050,"g":3.05,"m":0,"eT":100,"eg":0.13,"em":0.09,"eO":0.2,"eNa":0.06,"eMg":0.06,"eAl":0.05,"eSi":0.06,"eCa":0.06,"eTi":0.07,"eCr":0.05,"eNi":0.04,"eZn":0.12,"eY":0.2,"eBa":0.09},
{"T":5200,"g":3.35,"m":-0.55,"eT":80,"eg":0.1,"em":0.05,"eO":0.17,"eNa":0.05,"eMg":0.05,"eAl":0.04,"eSi":0.05,"eCa":0.05,"eTi":0.06,"eCr":0.06,"eNi":0.04,"eZn":0.1,"eY":0.12,"eBa":0.07},
{"T":5350,"g":3.45,"m":0.1,"eT":70,"eg":0.11,"em":0.06,"eO":0.14,"eNa":0.05,"eMg":0.07,"eAl":0.05,"eSi":0.04,"eCa":0.05,"eTi":0.07,"eCr":0.06,"eNi":0.04,"eZn":0.09,"eY":0.16,"eBa":0.06},
{"T":5600,"g":3.52,"m":-0.2,"eT":65,"eg":0.09,"em":0.05,"eO":0.16,"eNa":0.06,"eMg":0.05,"eAl":0.04,"eSi":0.05,"eCa":0.06,"eTi":0.05,"eCr":0.07,"eNi":0.04,"eZn":0.11,"eY":0.14,"eBa":0.08},
{"T":5750,"g":3.62,"m":0.2,"eT":55,"eg":0.1,"em":0.05,"eO":0.13,"eNa":0.05,"eMg":0.06,"eAl":0.05,"eSi":0.04,"eCa":0.05,"eTi":0.08,"eCr":0.06,"eNi":0.05,"eZn":0.25,"eY":0.15,"eBa":0.06},
{"T":5950,"g":3.7,"m":-0.35,"eT":75,"eg":0.12,"em":0.06,"eO":0.15,"eNa":0.05,"eMg":0.05,"eAl":0.05,"eSi":0.04,"eCa":0.05,"eTi":0.06,"eCr":0.07,"eNi":0.04,"eZn":0.1,"eY":0.18,"eBa":0.07},
{"T":6150,"g":3.78,"m":0.05,"eT":60,"eg":0.11,"em":0.07,"eO":0.12,"eNa":0.06,"eMg":0.06,"eAl":0.04,"eSi":0.05,"eCa":0.06,"eTi":0.06,"eCr":0.06,"eNi":0.04,"eZn":0.12,"eY":0.13,"eBa":0.1},
{"T":5500,"g":3.85,"m":0.15,"eT":50,"eg":0.09,"em":0.05,"eO":0.14,"eNa":0.05,"eMg":0.06,"eAl":0.05,"eSi":0.04,"eCa":0.05,"eTi":0.07,"eCr":0.05,"eNi":0.04,"eZn":0.09,"eY":0.17,"eBa":0.07},
{"T":6300,"g":3.9,"m":-0.15,"eT":90,"eg":0.13,"em":0.06,"eO":0.11,"eNa":0.05,"eMg":0.05,"eAl":0.05,"eSi":0.04,"eCa":0.05,"eTi":0.06,"eCr":0.06,"eNi":0.04,"eZn":0.09,"eY":0.14,"eBa":0.08},
{"T":5850,"g":3.95,"m":0.3,"eT":45,"eg":0.08,"em":0.05,"eO":0.16,"eNa":0.05,"eMg":0.05,"eAl":0.04,"eSi":0.04,"eCa":0.05,"eTi":0.06,"eCr":0.05,"eNi":0.04,"eZn":0.13,"eY":0.2,"eBa":0.09},
{"T":5380,"g":4.28,"m":0.12,"eT":105,"eg":0.07,"em":0.08,"eO":0.29,"eNa":0.27,"eMg":0.26,"eAl":0.1,"eSi":0.22,"eCa":0.28,"eTi":0.23,"eCr":0.1,"eNi":0.06,"eZn":0.26,"eY":0.35,"eBa":0.12},
{"T":5620,"g":4.56,"m":0.05,"eT":150,"eg":0.09,"em":0.1,"eO":0.27,"eNa":0.11,"eMg":0.05,"eAl":0.28,"eSi":0.08,"eCa":0.1,"eTi":0.07,"eCr":0.32,"eNi":0.11,"eZn":0.18,"eY":0.3,"eBa":0.15},
{"T":5980,"g":4.1,"m":-0.1,"eT":40,"eg":0.22,"em":0.17,"eO":0.4,"eNa":0.42,"eMg":0.48,"eAl":0.09,"eSi":0.09,"eCa":0.08,"eTi":0.05,"eCr":0.07,"eNi":0.05,"eZn":0.21,"eY":0.29,"eBa":0.25},
{"T":6100,"g":4.5,"m":0.25,"eT":130,"eg":0.1,"em":0.25,"eO":0.29,"eNa":0.24,"eMg":0.06,"eAl":0.22,"eSi":0.06,"eCa":0.07,"eTi":0.18,"eCr":0.06,"eNi":0.06,"eZn":0.09,"eY":0.26,"eBa":0.2},
{"T":5700,"g":4.05,"m":-0.3,"eT":45,"eg":0.16,"em":0.08,"eO":0.25,"eNa":0.07,"eMg":0.13,"eAl":0.16,"eSi":0.25,"eCa":0.08,"eTi":0.1,"eCr":0.05,"eNi":0.18,"eZn":0.19,"eY":0.32,"eBa":0.14},
{"T":5260,"g":4.58,"m":0.38,"eT":90,"eg":0.15,"em":0.28,"eO":0.35,"eNa":0.08,"eMg":0.2,"eAl":0.06,"eSi":0.15,"eCa":0.2,"eTi":0.06,"eCr":0.13,"eNi":0.1,"eZn":0.32,"eY":0.33,"eBa":0.27},
{"T":6400,"g":4.45,"m":0.3,"eT":120,"eg":0.12,"em":0.12,"eO":0.22,"eNa":0.07,"eMg":0.08,"eAl":0.05,"eSi":0.07,"eCa":0.07,"eTi":0.08,"eCr":0.15,"eNi":0.05,"eZn":0.16,"eY":0.25,"eBa":0.13},
{"T":5450,"g":4.6,"m":0.1,"eT":85,"eg":0.13,"em":0.2,"eO":0.3,"eNa":0.12,"eMg":0.11,"eAl":0.07,"eSi":0.12,"eCa":0.16,"eTi":0.1,"eCr":0.09,"eNi":0.07,"eZn":0.14,"eY":0.28,"eBa":0.11},
{"T":6000,"g":4.55,"m":0.35,"eT":60,"eg":0.14,"em":0.22,"eO":0.33,"eNa":0.06,"eMg":0.06,"eAl":0.09,"eSi":0.1,"eCa":0.15,"eTi":0.07,"eCr":0.08,"eNi":0.06,"eZn":0.2,"eY":0.3,"eBa":0.11},
{"T":5800,"g":4.62,"m":0.15,"eT":100,"eg":0.11,"em":0.18,"eO":0.28,"eNa":0.09,"eMg":0.07,"eAl":0.1,"eSi":0.08,"eCa":0.12,"eTi":0.09,"eCr":0.11,"eNi":0.08,"eZn":0.12,"eY":0.27,"eBa":0.1},
{"T":5550,"g":4.58,"m":0.4,"eT":65,"eg":0.1,"em":0.26,"eO":0.36,"eNa":0.07,"eMg":0.09,"eAl":0.07,"eSi":0.14,"eCa":0.19,"eTi":0.08,"eCr":0.07,"eNi":0.09,"eZn":0.23,"eY":0.34,"eBa":0.13},
{"T":6250,"g":4.58,"m":0.02,"eT":140,"eg":0.17,"em":0.14,"eO":0.26,"eNa":0.1,"eMg":0.1,"eAl":0.08,"eSi":0.09,"eCa":0.11,"eTi":0.07,"eCr":0.1,"eNi":0.06,"eZn":0.15,"eY":0.21,"eBa":0.12},
{"T":5150,"g":4.35,"m":-0.35,"eT":45,"eg":0.08,"em":0.06,"eO":0.21,"eNa":0.19,"eMg":0.08,"eAl":0.06,"eSi":0.11,"eCa":0.21,"eTi":0.07,"eCr":0.06,"eNi":0.05,"eZn":0.12,"eY":0.38,"eBa":0.09},
{"T":6600,"g":4.4,"m":-0.05,"eT":110,"eg":0.11,"em":0.08,"eO":0.18,"eNa":0.05,"eMg":0.09,"eAl":0.2,"eSi":0.05,"eCa":0.05,"eTi":0.17,"eCr":0.08,"eNi":0.05,"eZn":0.1,"eY":0.18,"eBa":0.09},
{"T":5900,"g":4.48,"m":-0.65,"eT":55,"eg":0.13,"em":0.06,"eO":0.2,"eNa":0.09,"eMg":0.12,"eAl":0.07,"eSi":0.07,"eCa":0.09,"eTi":0.11,"eCr":0.1,"eNi":0.05,"eZn":0.15,"eY":0.21,"eBa":0.32}
]},
"data": {"name": "s"},
"spacing": -6,
"vconcat": [
{"columns": 3, "spacing": {"row": 0, "column": 3}, "bounds": "flush", "concat": [
{"layer":[{"mark":"point","encoding":{"x":{"field":"T","type":"quantitative","scale":{"domain":[4600,7450]},"axis":{"title":null}},"y":{"field":"eT","type":"quantitative","scale":{"domain":[0,350]},"axis":{"title":"ϵTeff","labels":true,"labelExpr":"datum.value%100==0&&datum.value<340?format(datum.value,'d'):''"}}}},{"mark":{"type":"point","opacity":0},"encoding":{"x":{"field":"T","type":"quantitative","scale":{"domain":[4600,7450]},"axis":{"orient":"top","title":null}},"y":{"field":"eT","type":"quantitative","scale":{"domain":[0,350]},"axis":{"orient":"right","title":null}}}}],"resolve":{"axis":{"x":"independent","y":"independent"}}},
{"layer":[{"mark":"point","encoding":{"x":{"field":"g","type":"quantitative","scale":{"domain":[2.66,4.88]},"axis":{"title":null}},"y":{"field":"eT","type":"quantitative","scale":{"domain":[0,350]},"axis":{"title":null}}}},{"mark":{"type":"point","opacity":0},"encoding":{"x":{"field":"g","type":"quantitative","scale":{"domain":[2.66,4.88]},"axis":{"orient":"top","title":null}},"y":{"field":"eT","type":"quantitative","scale":{"domain":[0,350]},"axis":{"orient":"right","title":null}}}}],"resolve":{"axis":{"x":"independent","y":"independent"}}},
{"layer":[{"mark":"point","encoding":{"x":{"field":"m","type":"quantitative","scale":{"domain":[-2.75,0.6]},"axis":{"title":null}},"y":{"field":"eT","type":"quantitative","scale":{"domain":[0,350]},"axis":{"title":null}}}},{"mark":{"type":"point","opacity":0},"encoding":{"x":{"field":"m","type":"quantitative","scale":{"domain":[-2.75,0.6]},"axis":{"orient":"top","title":null}},"y":{"field":"eT","type":"quantitative","scale":{"domain":[0,350]},"axis":{"orient":"right","title":null}}}}],"resolve":{"axis":{"x":"independent","y":"independent"}}},
{"layer":[{"mark":"point","encoding":{"x":{"field":"T","type":"quantitative","scale":{"domain":[4600,7450]},"axis":{"title":null}},"y":{"field":"eg","type":"quantitative","scale":{"domain":[0,0.5]},"axis":{"title":"ϵlog g","labels":true,"labelExpr":"round(datum.value*100)%20==0&&datum.value<0.55?format(datum.value,'~g'):''"}}}},{"mark":{"type":"point","opacity":0},"encoding":{"x":{"field":"T","type":"quantitative","scale":{"domain":[4600,7450]},"axis":{"orient":"top","title":null}},"y":{"field":"eg","type":"quantitative","scale":{"domain":[0,0.5]},"axis":{"orient":"right","title":null}}}}],"resolve":{"axis":{"x":"independent","y":"independent"}}},
{"layer":[{"mark":"point","encoding":{"x":{"field":"g","type":"quantitative","scale":{"domain":[2.66,4.88]},"axis":{"title":null}},"y":{"field":"eg","type":"quantitative","scale":{"domain":[0,0.5]},"axis":{"title":null}}}},{"mark":{"type":"point","opacity":0},"encoding":{"x":{"field":"g","type":"quantitative","scale":{"domain":[2.66,4.88]},"axis":{"orient":"top","title":null}},"y":{"field":"eg","type":"quantitative","scale":{"domain":[0,0.5]},"axis":{"orient":"right","title":null}}}}],"resolve":{"axis":{"x":"independent","y":"independent"}}},
{"layer":[{"mark":"point","encoding":{"x":{"field":"m","type":"quantitative","scale":{"domain":[-2.75,0.6]},"axis":{"title":null}},"y":{"field":"eg","type":"quantitative","scale":{"domain":[0,0.5]},"axis":{"title":null}}}},{"mark":{"type":"point","opacity":0},"encoding":{"x":{"field":"m","type":"quantitative","scale":{"domain":[-2.75,0.6]},"axis":{"orient":"top","title":null}},"y":{"field":"eg","type":"quantitative","scale":{"domain":[0,0.5]},"axis":{"orient":"right","title":null}}}}],"resolve":{"axis":{"x":"independent","y":"independent"}}},
{"layer":[{"mark":"point","encoding":{"x":{"field":"T","type":"quantitative","scale":{"domain":[4600,7450]},"axis":{"title":null}},"y":{"field":"em","type":"quantitative","scale":{"domain":[0,0.5]},"axis":{"title":"ϵ[Fe/H]","labels":true,"labelExpr":"round(datum.value*100)%20==0&&datum.value<0.55?format(datum.value,'~g'):''"}}}},{"mark":{"type":"point","opacity":0},"encoding":{"x":{"field":"T","type":"quantitative","scale":{"domain":[4600,7450]},"axis":{"orient":"top","title":null}},"y":{"field":"em","type":"quantitative","scale":{"domain":[0,0.5]},"axis":{"orient":"right","title":null}}}}],"resolve":{"axis":{"x":"independent","y":"independent"}}},
{"layer":[{"mark":"point","encoding":{"x":{"field":"g","type":"quantitative","scale":{"domain":[2.66,4.88]},"axis":{"title":null}},"y":{"field":"em","type":"quantitative","scale":{"domain":[0,0.5]},"axis":{"title":null}}}},{"mark":{"type":"point","opacity":0},"encoding":{"x":{"field":"g","type":"quantitative","scale":{"domain":[2.66,4.88]},"axis":{"orient":"top","title":null}},"y":{"field":"em","type":"quantitative","scale":{"domain":[0,0.5]},"axis":{"orient":"right","title":null}}}}],"resolve":{"axis":{"x":"independent","y":"independent"}}},
{"layer":[{"mark":"point","encoding":{"x":{"field":"m","type":"quantitative","scale":{"domain":[-2.75,0.6]},"axis":{"title":null}},"y":{"field":"em","type":"quantitative","scale":{"domain":[0,0.5]},"axis":{"title":null}}}},{"mark":{"type":"point","opacity":0},"encoding":{"x":{"field":"m","type":"quantitative","scale":{"domain":[-2.75,0.6]},"axis":{"orient":"top","title":null}},"y":{"field":"em","type":"quantitative","scale":{"domain":[0,0.5]},"axis":{"orient":"right","title":null}}}}],"resolve":{"axis":{"x":"independent","y":"independent"}}}
]},
{"columns": 3, "spacing": {"row": 0, "column": 3}, "bounds": "flush", "concat": [
{"layer":[{"mark":"point","encoding":{"x":{"field":"T","type":"quantitative","scale":{"domain":[4600,7450]},"axis":{"title":null}},"y":{"field":"eO","type":"quantitative","scale":{"domain":[0,0.6]},"axis":{"title":"ϵ[O/Fe]","labels":true,"labelExpr":"round(datum.value*100)%20==0&&datum.value<0.55?format(datum.value,'~g'):''"}}}},{"mark":{"type":"point","opacity":0},"encoding":{"x":{"field":"T","type":"quantitative","scale":{"domain":[4600,7450]},"axis":{"orient":"top","title":null}},"y":{"field":"eO","type":"quantitative","scale":{"domain":[0,0.6]},"axis":{"orient":"right","title":null}}}}],"resolve":{"axis":{"x":"independent","y":"independent"}}},
{"layer":[{"mark":"point","encoding":{"x":{"field":"g","type":"quantitative","scale":{"domain":[2.66,4.88]},"axis":{"title":null}},"y":{"field":"eO","type":"quantitative","scale":{"domain":[0,0.6]},"axis":{"title":null}}}},{"mark":{"type":"point","opacity":0},"encoding":{"x":{"field":"g","type":"quantitative","scale":{"domain":[2.66,4.88]},"axis":{"orient":"top","title":null}},"y":{"field":"eO","type":"quantitative","scale":{"domain":[0,0.6]},"axis":{"orient":"right","title":null}}}}],"resolve":{"axis":{"x":"independent","y":"independent"}}},
{"layer":[{"mark":"point","encoding":{"x":{"field":"m","type":"quantitative","scale":{"domain":[-2.75,0.6]},"axis":{"title":null}},"y":{"field":"eO","type":"quantitative","scale":{"domain":[0,0.6]},"axis":{"title":null}}}},{"mark":{"type":"point","opacity":0},"encoding":{"x":{"field":"m","type":"quantitative","scale":{"domain":[-2.75,0.6]},"axis":{"orient":"top","title":null}},"y":{"field":"eO","type":"quantitative","scale":{"domain":[0,0.6]},"axis":{"orient":"right","title":null}}}}],"resolve":{"axis":{"x":"independent","y":"independent"}}},
{"layer":[{"mark":"point","encoding":{"x":{"field":"T","type":"quantitative","scale":{"domain":[4600,7450]},"axis":{"title":null}},"y":{"field":"eNa","type":"quantitative","scale":{"domain":[0,0.6]},"axis":{"title":"ϵ[Na/Fe]","labels":true,"labelExpr":"round(datum.value*100)%20==0&&datum.value<0.55?format(datum.value,'~g'):''"}}}},{"mark":{"type":"point","opacity":0},"encoding":{"x":{"field":"T","type":"quantitative","scale":{"domain":[4600,7450]},"axis":{"orient":"top","title":null}},"y":{"field":"eNa","type":"quantitative","scale":{"domain":[0,0.6]},"axis":{"orient":"right","title":null}}}}],"resolve":{"axis":{"x":"independent","y":"independent"}}},
{"layer":[{"mark":"point","encoding":{"x":{"field":"g","type":"quantitative","scale":{"domain":[2.66,4.88]},"axis":{"title":null}},"y":{"field":"eNa","type":"quantitative","scale":{"domain":[0,0.6]},"axis":{"title":null}}}},{"mark":{"type":"point","opacity":0},"encoding":{"x":{"field":"g","type":"quantitative","scale":{"domain":[2.66,4.88]},"axis":{"orient":"top","title":null}},"y":{"field":"eNa","type":"quantitative","scale":{"domain":[0,0.6]},"axis":{"orient":"right","title":null}}}}],"resolve":{"axis":{"x":"independent","y":"independent"}}},
{"layer":[{"mark":"point","encoding":{"x":{"field":"m","type":"quantitative","scale":{"domain":[-2.75,0.6]},"axis":{"title":null}},"y":{"field":"eNa","type":"quantitative","scale":{"domain":[0,0.6]},"axis":{"title":null}}}},{"mark":{"type":"point","opacity":0},"encoding":{"x":{"field":"m","type":"quantitative","scale":{"domain":[-2.75,0.6]},"axis":{"orient":"top","title":null}},"y":{"field":"eNa","type":"quantitative","scale":{"domain":[0,0.6]},"axis":{"orient":"right","title":null}}}}],"resolve":{"axis":{"x":"independent","y":"independent"}}},
{"layer":[{"mark":"point","encoding":{"x":{"field":"T","type":"quantitative","scale":{"domain":[4600,7450]},"axis":{"title":null}},"y":{"field":"eMg","type":"quantitative","scale":{"domain":[0,0.6]},"axis":{"title":"ϵ[Mg/Fe]","labels":true,"labelExpr":"round(datum.value*100)%20==0&&datum.value<0.55?format(datum.value,'~g'):''"}}}},{"mark":{"type":"point","opacity":0},"encoding":{"x":{"field":"T","type":"quantitative","scale":{"domain":[4600,7450]},"axis":{"orient":"top","title":null}},"y":{"field":"eMg","type":"quantitative","scale":{"domain":[0,0.6]},"axis":{"orient":"right","title":null}}}}],"resolve":{"axis":{"x":"independent","y":"independent"}}},
{"layer":[{"mark":"point","encoding":{"x":{"field":"g","type":"quantitative","scale":{"domain":[2.66,4.88]},"axis":{"title":null}},"y":{"field":"eMg","type":"quantitative","scale":{"domain":[0,0.6]},"axis":{"title":null}}}},{"mark":{"type":"point","opacity":0},"encoding":{"x":{"field":"g","type":"quantitative","scale":{"domain":[2.66,4.88]},"axis":{"orient":"top","title":null}},"y":{"field":"eMg","type":"quantitative","scale":{"domain":[0,0.6]},"axis":{"orient":"right","title":null}}}}],"resolve":{"axis":{"x":"independent","y":"independent"}}},
{"layer":[{"mark":"point","encoding":{"x":{"field":"m","type":"quantitative","scale":{"domain":[-2.75,0.6]},"axis":{"title":null}},"y":{"field":"eMg","type":"quantitative","scale":{"domain":[0,0.6]},"axis":{"title":null}}}},{"mark":{"type":"point","opacity":0},"encoding":{"x":{"field":"m","type":"quantitative","scale":{"domain":[-2.75,0.6]},"axis":{"orient":"top","title":null}},"y":{"field":"eMg","type":"quantitative","scale":{"domain":[0,0.6]},"axis":{"orient":"right","title":null}}}}],"resolve":{"axis":{"x":"independent","y":"independent"}}},
{"layer":[{"mark":"point","encoding":{"x":{"field":"T","type":"quantitative","scale":{"domain":[4600,7450]},"axis":{"title":null}},"y":{"field":"eAl","type":"quantitative","scale":{"domain":[0,0.6]},"axis":{"title":"ϵ[Al/Fe]","labels":true,"labelExpr":"round(datum.value*100)%20==0&&datum.value<0.55?format(datum.value,'~g'):''"}}}},{"mark":{"type":"point","opacity":0},"encoding":{"x":{"field":"T","type":"quantitative","scale":{"domain":[4600,7450]},"axis":{"orient":"top","title":null}},"y":{"field":"eAl","type":"quantitative","scale":{"domain":[0,0.6]},"axis":{"orient":"right","title":null}}}}],"resolve":{"axis":{"x":"independent","y":"independent"}}},
{"layer":[{"mark":"point","encoding":{"x":{"field":"g","type":"quantitative","scale":{"domain":[2.66,4.88]},"axis":{"title":null}},"y":{"field":"eAl","type":"quantitative","scale":{"domain":[0,0.6]},"axis":{"title":null}}}},{"mark":{"type":"point","opacity":0},"encoding":{"x":{"field":"g","type":"quantitative","scale":{"domain":[2.66,4.88]},"axis":{"orient":"top","title":null}},"y":{"field":"eAl","type":"quantitative","scale":{"domain":[0,0.6]},"axis":{"orient":"right","title":null}}}}],"resolve":{"axis":{"x":"independent","y":"independent"}}},
{"layer":[{"mark":"point","encoding":{"x":{"field":"m","type":"quantitative","scale":{"domain":[-2.75,0.6]},"axis":{"title":null}},"y":{"field":"eAl","type":"quantitative","scale":{"domain":[0,0.6]},"axis":{"title":null}}}},{"mark":{"type":"point","opacity":0},"encoding":{"x":{"field":"m","type":"quantitative","scale":{"domain":[-2.75,0.6]},"axis":{"orient":"top","title":null}},"y":{"field":"eAl","type":"quantitative","scale":{"domain":[0,0.6]},"axis":{"orient":"right","title":null}}}}],"resolve":{"axis":{"x":"independent","y":"independent"}}},
{"layer":[{"mark":"point","encoding":{"x":{"field":"T","type":"quantitative","scale":{"domain":[4600,7450]},"axis":{"title":null}},"y":{"field":"eSi","type":"quantitative","scale":{"domain":[0,0.6]},"axis":{"title":"ϵ[Si/Fe]","labels":true,"labelExpr":"round(datum.value*100)%20==0&&datum.value<0.55?format(datum.value,'~g'):''"}}}},{"mark":{"type":"point","opacity":0},"encoding":{"x":{"field":"T","type":"quantitative","scale":{"domain":[4600,7450]},"axis":{"orient":"top","title":null}},"y":{"field":"eSi","type":"quantitative","scale":{"domain":[0,0.6]},"axis":{"orient":"right","title":null}}}}],"resolve":{"axis":{"x":"independent","y":"independent"}}},
{"layer":[{"mark":"point","encoding":{"x":{"field":"g","type":"quantitative","scale":{"domain":[2.66,4.88]},"axis":{"title":null}},"y":{"field":"eSi","type":"quantitative","scale":{"domain":[0,0.6]},"axis":{"title":null}}}},{"mark":{"type":"point","opacity":0},"encoding":{"x":{"field":"g","type":"quantitative","scale":{"domain":[2.66,4.88]},"axis":{"orient":"top","title":null}},"y":{"field":"eSi","type":"quantitative","scale":{"domain":[0,0.6]},"axis":{"orient":"right","title":null}}}}],"resolve":{"axis":{"x":"independent","y":"independent"}}},
{"layer":[{"mark":"point","encoding":{"x":{"field":"m","type":"quantitative","scale":{"domain":[-2.75,0.6]},"axis":{"title":null}},"y":{"field":"eSi","type":"quantitative","scale":{"domain":[0,0.6]},"axis":{"title":null}}}},{"mark":{"type":"point","opacity":0},"encoding":{"x":{"field":"m","type":"quantitative","scale":{"domain":[-2.75,0.6]},"axis":{"orient":"top","title":null}},"y":{"field":"eSi","type":"quantitative","scale":{"domain":[0,0.6]},"axis":{"orient":"right","title":null}}}}],"resolve":{"axis":{"x":"independent","y":"independent"}}},
{"layer":[{"mark":"point","encoding":{"x":{"field":"T","type":"quantitative","scale":{"domain":[4600,7450]},"axis":{"title":null}},"y":{"field":"eCa","type":"quantitative","scale":{"domain":[0,0.6]},"axis":{"title":"ϵ[Ca/Fe]","labels":true,"labelExpr":"round(datum.value*100)%20==0&&datum.value<0.55?format(datum.value,'~g'):''"}}}},{"mark":{"type":"point","opacity":0},"encoding":{"x":{"field":"T","type":"quantitative","scale":{"domain":[4600,7450]},"axis":{"orient":"top","title":null}},"y":{"field":"eCa","type":"quantitative","scale":{"domain":[0,0.6]},"axis":{"orient":"right","title":null}}}}],"resolve":{"axis":{"x":"independent","y":"independent"}}},
{"layer":[{"mark":"point","encoding":{"x":{"field":"g","type":"quantitative","scale":{"domain":[2.66,4.88]},"axis":{"title":null}},"y":{"field":"eCa","type":"quantitative","scale":{"domain":[0,0.6]},"axis":{"title":null}}}},{"mark":{"type":"point","opacity":0},"encoding":{"x":{"field":"g","type":"quantitative","scale":{"domain":[2.66,4.88]},"axis":{"orient":"top","title":null}},"y":{"field":"eCa","type":"quantitative","scale":{"domain":[0,0.6]},"axis":{"orient":"right","title":null}}}}],"resolve":{"axis":{"x":"independent","y":"independent"}}},
{"layer":[{"mark":"point","encoding":{"x":{"field":"m","type":"quantitative","scale":{"domain":[-2.75,0.6]},"axis":{"title":null}},"y":{"field":"eCa","type":"quantitative","scale":{"domain":[0,0.6]},"axis":{"title":null}}}},{"mark":{"type":"point","opacity":0},"encoding":{"x":{"field":"m","type":"quantitative","scale":{"domain":[-2.75,0.6]},"axis":{"orient":"top","title":null}},"y":{"field":"eCa","type":"quantitative","scale":{"domain":[0,0.6]},"axis":{"orient":"right","title":null}}}}],"resolve":{"axis":{"x":"independent","y":"independent"}}}
]},
{"columns": 3, "spacing": {"row": 0, "column": 3}, "bounds": "flush", "concat": [
{"layer":[{"mark":"point","encoding":{"x":{"field":"T","type":"quantitative","scale":{"domain":[4600,7450]},"axis":{"title":null}},"y":{"field":"eTi","type":"quantitative","scale":{"domain":[0,0.6]},"axis":{"title":"ϵ[Ti/Fe]","labels":true,"labelExpr":"round(datum.value*100)%20==0&&datum.value<0.55?format(datum.value,'~g'):''"}}}},{"mark":{"type":"point","opacity":0},"encoding":{"x":{"field":"T","type":"quantitative","scale":{"domain":[4600,7450]},"axis":{"orient":"top","title":null}},"y":{"field":"eTi","type":"quantitative","scale":{"domain":[0,0.6]},"axis":{"orient":"right","title":null}}}}],"resolve":{"axis":{"x":"independent","y":"independent"}}},
{"view":{"stroke":"#4a4aff"},"layer":[{"mark":"point","encoding":{"x":{"field":"g","type":"quantitative","scale":{"domain":[2.66,4.88]},"axis":{"title":null,"tickColor":"#4a4aff"}},"y":{"field":"eTi","type":"quantitative","scale":{"domain":[0,0.6]},"axis":{"title":null,"tickColor":"#4a4aff"}}}},{"mark":{"type":"point","opacity":0},"encoding":{"x":{"field":"g","type":"quantitative","scale":{"domain":[2.66,4.88]},"axis":{"orient":"top","title":null,"tickColor":"#4a4aff"}},"y":{"field":"eTi","type":"quantitative","scale":{"domain":[0,0.6]},"axis":{"orient":"right","title":null,"tickColor":"#4a4aff"}}}}],"resolve":{"axis":{"x":"independent","y":"independent"}}},
{"layer":[{"mark":"point","encoding":{"x":{"field":"m","type":"quantitative","scale":{"domain":[-2.75,0.6]},"axis":{"title":null}},"y":{"field":"eTi","type":"quantitative","scale":{"domain":[0,0.6]},"axis":{"title":null}}}},{"mark":{"type":"point","opacity":0},"encoding":{"x":{"field":"m","type":"quantitative","scale":{"domain":[-2.75,0.6]},"axis":{"orient":"top","title":null}},"y":{"field":"eTi","type":"quantitative","scale":{"domain":[0,0.6]},"axis":{"orient":"right","title":null}}}}],"resolve":{"axis":{"x":"independent","y":"independent"}}},
{"layer":[{"mark":"point","encoding":{"x":{"field":"T","type":"quantitative","scale":{"domain":[4600,7450]},"axis":{"title":null}},"y":{"field":"eCr","type":"quantitative","scale":{"domain":[0,0.6]},"axis":{"title":"ϵ[Cr/Fe]","labels":true,"labelExpr":"round(datum.value*100)%20==0&&datum.value<0.55?format(datum.value,'~g'):''"}}}},{"mark":{"type":"point","opacity":0},"encoding":{"x":{"field":"T","type":"quantitative","scale":{"domain":[4600,7450]},"axis":{"orient":"top","title":null}},"y":{"field":"eCr","type":"quantitative","scale":{"domain":[0,0.6]},"axis":{"orient":"right","title":null}}}}],"resolve":{"axis":{"x":"independent","y":"independent"}}},
{"layer":[{"mark":"point","encoding":{"x":{"field":"g","type":"quantitative","scale":{"domain":[2.66,4.88]},"axis":{"title":null}},"y":{"field":"eCr","type":"quantitative","scale":{"domain":[0,0.6]},"axis":{"title":null}}}},{"mark":{"type":"point","opacity":0},"encoding":{"x":{"field":"g","type":"quantitative","scale":{"domain":[2.66,4.88]},"axis":{"orient":"top","title":null}},"y":{"field":"eCr","type":"quantitative","scale":{"domain":[0,0.6]},"axis":{"orient":"right","title":null}}}}],"resolve":{"axis":{"x":"independent","y":"independent"}}},
{"layer":[{"mark":"point","encoding":{"x":{"field":"m","type":"quantitative","scale":{"domain":[-2.75,0.6]},"axis":{"title":null}},"y":{"field":"eCr","type":"quantitative","scale":{"domain":[0,0.6]},"axis":{"title":null}}}},{"mark":{"type":"point","opacity":0},"encoding":{"x":{"field":"m","type":"quantitative","scale":{"domain":[-2.75,0.6]},"axis":{"orient":"top","title":null}},"y":{"field":"eCr","type":"quantitative","scale":{"domain":[0,0.6]},"axis":{"orient":"right","title":null}}}}],"resolve":{"axis":{"x":"independent","y":"independent"}}},
{"layer":[{"mark":"point","encoding":{"x":{"field":"T","type":"quantitative","scale":{"domain":[4600,7450]},"axis":{"title":null}},"y":{"field":"eNi","type":"quantitative","scale":{"domain":[0,0.6]},"axis":{"title":"ϵ[Ni/Fe]","labels":true,"labelExpr":"round(datum.value*100)%20==0&&datum.value<0.55?format(datum.value,'~g'):''"}}}},{"mark":{"type":"point","opacity":0},"encoding":{"x":{"field":"T","type":"quantitative","scale":{"domain":[4600,7450]},"axis":{"orient":"top","title":null}},"y":{"field":"eNi","type":"quantitative","scale":{"domain":[0,0.6]},"axis":{"orient":"right","title":null}}}}],"resolve":{"axis":{"x":"independent","y":"independent"}}},
{"layer":[{"mark":"point","encoding":{"x":{"field":"g","type":"quantitative","scale":{"domain":[2.66,4.88]},"axis":{"title":null}},"y":{"field":"eNi","type":"quantitative","scale":{"domain":[0,0.6]},"axis":{"title":null}}}},{"mark":{"type":"point","opacity":0},"encoding":{"x":{"field":"g","type":"quantitative","scale":{"domain":[2.66,4.88]},"axis":{"orient":"top","title":null}},"y":{"field":"eNi","type":"quantitative","scale":{"domain":[0,0.6]},"axis":{"orient":"right","title":null}}}}],"resolve":{"axis":{"x":"independent","y":"independent"}}},
{"layer":[{"mark":"point","encoding":{"x":{"field":"m","type":"quantitative","scale":{"domain":[-2.75,0.6]},"axis":{"title":null}},"y":{"field":"eNi","type":"quantitative","scale":{"domain":[0,0.6]},"axis":{"title":null}}}},{"mark":{"type":"point","opacity":0},"encoding":{"x":{"field":"m","type":"quantitative","scale":{"domain":[-2.75,0.6]},"axis":{"orient":"top","title":null}},"y":{"field":"eNi","type":"quantitative","scale":{"domain":[0,0.6]},"axis":{"orient":"right","title":null}}}}],"resolve":{"axis":{"x":"independent","y":"independent"}}},
{"layer":[{"mark":"point","encoding":{"x":{"field":"T","type":"quantitative","scale":{"domain":[4600,7450]},"axis":{"title":null}},"y":{"field":"eZn","type":"quantitative","scale":{"domain":[0,0.6]},"axis":{"title":"ϵ[Zn/Fe]","labels":true,"labelExpr":"round(datum.value*100)%20==0&&datum.value<0.55?format(datum.value,'~g'):''"}}}},{"mark":{"type":"point","opacity":0},"encoding":{"x":{"field":"T","type":"quantitative","scale":{"domain":[4600,7450]},"axis":{"orient":"top","title":null}},"y":{"field":"eZn","type":"quantitative","scale":{"domain":[0,0.6]},"axis":{"orient":"right","title":null}}}}],"resolve":{"axis":{"x":"independent","y":"independent"}}},
{"layer":[{"mark":"point","encoding":{"x":{"field":"g","type":"quantitative","scale":{"domain":[2.66,4.88]},"axis":{"title":null}},"y":{"field":"eZn","type":"quantitative","scale":{"domain":[0,0.6]},"axis":{"title":null}}}},{"mark":{"type":"point","opacity":0},"encoding":{"x":{"field":"g","type":"quantitative","scale":{"domain":[2.66,4.88]},"axis":{"orient":"top","title":null}},"y":{"field":"eZn","type":"quantitative","scale":{"domain":[0,0.6]},"axis":{"orient":"right","title":null}}}}],"resolve":{"axis":{"x":"independent","y":"independent"}}},
{"layer":[{"mark":"point","encoding":{"x":{"field":"m","type":"quantitative","scale":{"domain":[-2.75,0.6]},"axis":{"title":null}},"y":{"field":"eZn","type":"quantitative","scale":{"domain":[0,0.6]},"axis":{"title":null}}}},{"mark":{"type":"point","opacity":0},"encoding":{"x":{"field":"m","type":"quantitative","scale":{"domain":[-2.75,0.6]},"axis":{"orient":"top","title":null}},"y":{"field":"eZn","type":"quantitative","scale":{"domain":[0,0.6]},"axis":{"orient":"right","title":null}}}}],"resolve":{"axis":{"x":"independent","y":"independent"}}},
{"layer":[{"mark":"point","encoding":{"x":{"field":"T","type":"quantitative","scale":{"domain":[4600,7450]},"axis":{"title":null}},"y":{"field":"eY","type":"quantitative","scale":{"domain":[0,0.6]},"axis":{"title":"ϵ[Y/Fe]","labels":true,"labelExpr":"round(datum.value*100)%20==0&&datum.value<0.55?format(datum.value,'~g'):''"}}}},{"mark":{"type":"point","opacity":0},"encoding":{"x":{"field":"T","type":"quantitative","scale":{"domain":[4600,7450]},"axis":{"orient":"top","title":null}},"y":{"field":"eY","type":"quantitative","scale":{"domain":[0,0.6]},"axis":{"orient":"right","title":null}}}}],"resolve":{"axis":{"x":"independent","y":"independent"}}},
{"layer":[{"mark":"point","encoding":{"x":{"field":"g","type":"quantitative","scale":{"domain":[2.66,4.88]},"axis":{"title":null}},"y":{"field":"eY","type":"quantitative","scale":{"domain":[0,0.6]},"axis":{"title":null}}}},{"mark":{"type":"point","opacity":0},"encoding":{"x":{"field":"g","type":"quantitative","scale":{"domain":[2.66,4.88]},"axis":{"orient":"top","title":null}},"y":{"field":"eY","type":"quantitative","scale":{"domain":[0,0.6]},"axis":{"orient":"right","title":null}}}}],"resolve":{"axis":{"x":"independent","y":"independent"}}},
{"layer":[{"mark":"point","encoding":{"x":{"field":"m","type":"quantitative","scale":{"domain":[-2.75,0.6]},"axis":{"title":null}},"y":{"field":"eY","type":"quantitative","scale":{"domain":[0,0.6]},"axis":{"title":null}}}},{"mark":{"type":"point","opacity":0},"encoding":{"x":{"field":"m","type":"quantitative","scale":{"domain":[-2.75,0.6]},"axis":{"orient":"top","title":null}},"y":{"field":"eY","type":"quantitative","scale":{"domain":[0,0.6]},"axis":{"orient":"right","title":null}}}}],"resolve":{"axis":{"x":"independent","y":"independent"}}},
{"layer":[{"mark":"point","encoding":{"x":{"field":"T","type":"quantitative","scale":{"domain":[4600,7450]},"axis":{"title":"Teff  [K]","labels":true,"labelExpr":"datum.value%500==0&&datum.value<6800?format(datum.value,'d'):''"}},"y":{"field":"eBa","type":"quantitative","scale":{"domain":[0,0.6]},"axis":{"title":"ϵ[Ba/Fe]","labels":true,"labelExpr":"round(datum.value*100)%20==0&&datum.value<0.55?format(datum.value,'~g'):''"}}}},{"mark":{"type":"point","opacity":0},"encoding":{"x":{"field":"T","type":"quantitative","scale":{"domain":[4600,7450]},"axis":{"orient":"top","title":null}},"y":{"field":"eBa","type":"quantitative","scale":{"domain":[0,0.6]},"axis":{"orient":"right","title":null}}}}],"resolve":{"axis":{"x":"independent","y":"independent"}}},
{"layer":[{"mark":"point","encoding":{"x":{"field":"g","type":"quantitative","scale":{"domain":[2.66,4.88]},"axis":{"title":"log g   [cgs]","labels":true,"labelExpr":"round(datum.value*10)%4==0?format(datum.value,'~g'):''"}},"y":{"field":"eBa","type":"quantitative","scale":{"domain":[0,0.6]},"axis":{"title":null}}}},{"mark":{"type":"point","opacity":0},"encoding":{"x":{"field":"g","type":"quantitative","scale":{"domain":[2.66,4.88]},"axis":{"orient":"top","title":null}},"y":{"field":"eBa","type":"quantitative","scale":{"domain":[0,0.6]},"axis":{"orient":"right","title":null}}}}],"resolve":{"axis":{"x":"independent","y":"independent"}}},
{"layer":[{"mark":"point","encoding":{"x":{"field":"m","type":"quantitative","scale":{"domain":[-2.75,0.6]},"axis":{"title":"[Fe/H]","labels":true,"labelExpr":"round(datum.value*10)%5==0?format(datum.value,'~g'):''"}},"y":{"field":"eBa","type":"quantitative","scale":{"domain":[0,0.6]},"axis":{"title":null}}}},{"mark":{"type":"point","opacity":0},"encoding":{"x":{"field":"m","type":"quantitative","scale":{"domain":[-2.75,0.6]},"axis":{"orient":"top","title":null}},"y":{"field":"eBa","type":"quantitative","scale":{"domain":[0,0.6]},"axis":{"orient":"right","title":null}}}}],"resolve":{"axis":{"x":"independent","y":"independent"}}}
]}
],
"config": {
 "view": {"continuousWidth": 186, "continuousHeight": 45.7, "stroke": "black", "strokeWidth": 1},
 "point": {"shape": "circle", "filled": false, "color": "#0000ff", "size": 13, "strokeWidth": 0.7},
 "axis": {"domain": false, "grid": false, "labels": false, "tickColor": "black", "tickWidth": 0.8, "labelFont": "Liberation Sans", "labelFontSize": 9, "labelColor": "black", "labelPadding": 8, "labelOverlap": false, "labelFlush": false, "labelBound": false, "titleColor": "black", "titleFontWeight": "normal"},
 "axisX": {"tickCount": 30, "titleFont": "Liberation Serif", "titleFontSize": 10, "tickSize": {"condition": {"test": "datum.value>1000?datum.value%500==0:datum.value>2?round(datum.value*10)%4==0:round(datum.value*10)%5==0", "value": -5}, "value": -2.5}},
 "axisY": {"tickCount": 12, "titleFont": "DejaVu Sans Mono", "titleFontSize": 9, "tickSize": {"condition": {"test": "datum.value>=1?datum.value%100==0:round(datum.value*100)%20==0", "value": -5}, "value": -2.5}},
 "axisLeft": {"minExtent": 20, "maxExtent": 20, "titlePadding": 2},
 "axisBottom": {"titlePadding": 0, "labelPadding": 5.5}
}
}
